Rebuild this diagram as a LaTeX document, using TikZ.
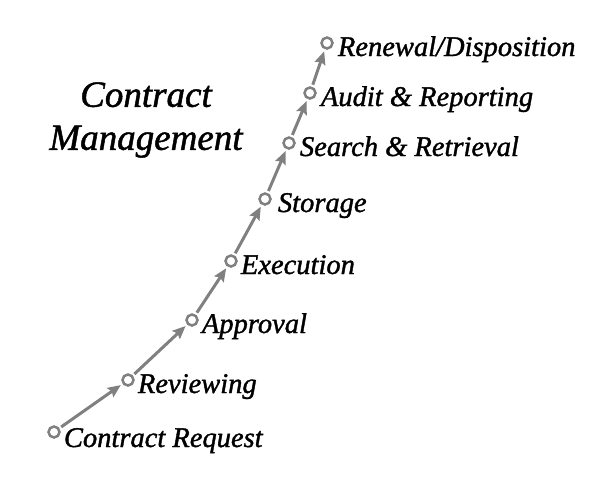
\documentclass[tikz,border=0pt]{standalone}
\usepackage{fontspec}
\setmainfont{Liberation Serif}
\newfontfamily\stagefont[ItalicFeatures={FakeBold=1.3}]{Liberation Serif}
\usepackage{tikz}
\usetikzlibrary{arrows.meta}
\definecolor{stagegray}{RGB}{128, 128, 128}

\begin{document}
\begin{tikzpicture}[x=1pt, y=-1pt,
    dot/.style={circle, draw=stagegray, line width=2.5pt, minimum size=11pt, inner sep=0pt},
    lbl/.style={anchor=base west, inner sep=0pt, font=\stagefont\itshape\fontsize{28.5}{34}\selectfont},
    link/.style={stagegray, line width=3pt, -{Stealth[length=13pt, width=11pt, inset=2pt]}, shorten <=2pt, shorten >=2pt}]
  \useasboundingbox (0, 0) rectangle (600, 480);

  % stages
  \node[dot] (c1) at (54, 432) {};
  \node[dot] (c2) at (128, 380) {};
  \node[dot] (c3) at (192, 320) {};
  \node[dot] (c4) at (231, 261) {};
  \node[dot] (c5) at (265, 199) {};
  \node[dot] (c6) at (289, 143) {};
  \node[dot] (c7) at (310, 93) {};
  \node[dot] (c8) at (327, 43) {};

  \node[lbl] (t1) at ([xshift=3pt, yshift=-15pt]c1.east) {Contract Request};
  \node[lbl] (t2) at ([xshift=3pt, yshift=-13pt]c2.east) {Reviewing};
  \node[lbl] (t3) at ([xshift=3pt, yshift=-13pt]c3.east) {Approval};
  \node[lbl] (t4) at ([xshift=3pt, yshift=-13pt]c4.east) {Execution};
  \node[lbl] (t5) at ([xshift=6pt, yshift=-13pt]c5.east) {Storage};
  \node[lbl] (t6) at ([xshift=4pt, yshift=-13pt]c6.east) {Search \& Retrieval};
  \node[lbl] (t7) at ([xshift=4pt, yshift=-13pt]c7.east) {Audit \& Reporting};
  \node[lbl] (t8) at ([xshift=4pt, yshift=-13pt]c8.east) {Renewal/Disposition};

  % arrows between stages
  \foreach \a/\b in {1/2, 2/3, 3/4, 4/5, 5/6, 6/7, 7/8} {
    \draw[link] (c\a) -- (c\b);
  }

  % title
  \node[align=center, font=\stagefont\itshape\fontsize{37}{43}\selectfont] (title) at (146, 120)
    {Contract\\Management};
\end{tikzpicture}
\end{document}
